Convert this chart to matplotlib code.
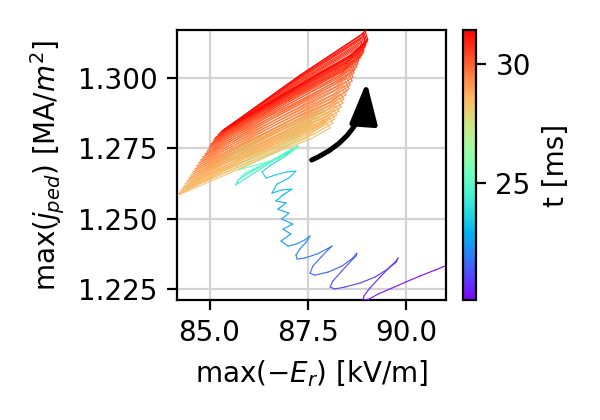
import matplotlib
matplotlib.use("Agg")
import matplotlib.pyplot as plt
from matplotlib.collections import LineCollection
from matplotlib.colors import Normalize
from matplotlib.ticker import MultipleLocator
import numpy as np

# --- early phase: drift from bottom right up into the cyan region ---
t_tail = [20.05, 20.1, 20.17, 20.24, 20.31, 20.38, 20.44, 20.48, 20.52, 20.57,
          20.63, 20.69, 20.73, 20.76, 20.79, 20.84, 20.9, 20.96, 21.02, 21.07,
          21.11, 21.15, 21.21, 21.27, 21.31, 21.34, 21.37, 21.42, 21.48, 21.54,
          21.58, 21.62, 21.67, 21.72, 21.75, 21.78, 21.83, 21.89, 21.94, 21.98,
          22.04, 22.1, 22.15, 22.2, 22.26, 22.32,
          22.42, 22.48, 22.54, 22.6, 22.66, 22.72, 22.78, 22.84, 22.9, 22.96,
          23.02, 23.08, 23.14, 23.2, 23.26, 23.32, 23.38, 23.44, 23.5, 23.56,
          23.62, 23.7, 23.78, 23.84, 23.92, 24.0, 24.1, 24.2, 24.26, 24.34,
          24.44, 24.54, 24.62, 24.68, 24.76, 24.86, 24.96, 25.02, 25.1, 25.2,
          25.3, 25.38, 25.44]
er_tail = [90.99, 90.74, 90.36, 90.00, 89.64, 89.29, 89.06, 88.91, 88.93, 89.08,
           89.34, 89.59, 89.75, 89.80, 89.75, 89.54, 89.21, 88.83, 88.45, 88.19,
           88.07, 88.14, 88.37, 88.60, 88.73, 88.75, 88.65, 88.37, 88.02, 87.68,
           87.56, 87.63, 87.84, 88.04, 88.12, 87.99, 87.74, 87.43, 87.23, 87.20,
           87.30, 87.46, 87.56, 87.43, 87.20, 87.00,
           86.82, 87.07, 86.87, 87.12, 86.84, 87.02, 86.74, 86.95, 86.69, 86.87,
           87.10, 86.84, 86.59, 86.72, 87.02, 87.20, 86.97, 86.67, 86.44, 86.34,
           86.56, 86.90, 87.15, 87.23, 86.95, 86.49, 86.08, 85.73, 85.67, 85.98,
           86.34, 86.74, 87.05, 87.18, 86.84, 86.39, 85.91, 85.78, 86.16, 86.59,
           87.00, 87.28, 86.93]
j_tail = [1.2332, 1.2318, 1.2297, 1.2276, 1.2254, 1.2233, 1.2215, 1.2212, 1.2226, 1.2254,
          1.2293, 1.2329, 1.2350, 1.2361, 1.2346, 1.2322, 1.2293, 1.2272, 1.2258, 1.2251,
          1.2258, 1.2279, 1.2315, 1.2350, 1.2368, 1.2378, 1.2361, 1.2332, 1.2311, 1.2300,
          1.2307, 1.2332, 1.2364, 1.2393, 1.2403, 1.2393, 1.2375, 1.2361, 1.2357, 1.2371,
          1.2393, 1.2417, 1.2439, 1.2425, 1.2410, 1.2403,
          1.2421, 1.2446, 1.2463, 1.2481, 1.2499, 1.2520, 1.2534, 1.2556, 1.2563, 1.2584,
          1.2605, 1.2602, 1.2591, 1.2623, 1.2644, 1.2669, 1.2666, 1.2655, 1.2644, 1.2666,
          1.2690, 1.2719, 1.2744, 1.2758, 1.2729, 1.2698, 1.2669, 1.2637, 1.2620, 1.2648,
          1.2680, 1.2715, 1.2744, 1.2754, 1.2722, 1.2694, 1.2662, 1.2644, 1.2673, 1.2708,
          1.2740, 1.2758, 1.2719]

# --- green loops (mid stack, shorter) ---
t_green = [25.5, 25.58, 25.64, 25.67, 25.73, 25.78, 25.86, 25.92, 25.95, 26.01,
           26.06, 26.14, 26.2, 26.23, 26.29, 26.34, 26.42, 26.48, 26.51, 26.57,
           26.62, 26.7, 26.76, 26.79, 26.85, 26.9, 26.98, 27.04, 27.07, 27.13,
           27.18, 27.26, 27.32, 27.35, 27.41, 27.46, 27.54, 27.6, 27.63, 27.69,
           27.74, 27.82, 27.88, 27.91, 27.97, 28.02, 28.1, 28.16, 28.19, 28.25]
er_green = [85.73, 86.41, 87.18, 87.43, 86.58, 85.67, 86.43, 87.28, 87.56, 86.62,
            85.57, 86.41, 87.36, 87.68, 86.63, 85.47, 86.39, 87.42, 87.76, 86.62,
            85.37, 86.37, 87.49, 87.86, 86.62, 85.27, 86.34, 87.54, 87.94, 86.61,
            85.01, 86.19, 87.52, 87.96, 86.49, 84.76, 86.05, 87.51, 87.99, 86.38,
            84.50, 85.90, 87.47, 87.99, 86.25, 84.30, 85.78, 87.44, 87.99, 86.15]
j_green = [1.2673, 1.2718, 1.2775, 1.2822, 1.2758, 1.2687, 1.2734, 1.2795, 1.2843, 1.2775,
           1.2698, 1.2748, 1.2812, 1.2861, 1.2790, 1.2708, 1.2760, 1.2825, 1.2875, 1.2802,
           1.2715, 1.2768, 1.2835, 1.2885, 1.2810, 1.2715, 1.2771, 1.2841, 1.2893, 1.2814,
           1.2690, 1.2750, 1.2825, 1.2878, 1.2794, 1.2666, 1.2730, 1.2809, 1.2864, 1.2775,
           1.2630, 1.2705, 1.2795, 1.2854, 1.2752, 1.2602, 1.2685, 1.2784, 1.2846, 1.2734]

# --- orange/red limit cycles creeping upwards (7 samples per cycle) ---
t_loops = [28.30, 28.33, 28.35, 28.36, 28.37, 28.38, 28.39,
           28.41, 28.44, 28.46, 28.47, 28.48, 28.49, 28.50,
           28.51, 28.54, 28.56, 28.57, 28.58, 28.59, 28.60,
           28.62, 28.65, 28.67, 28.68, 28.69, 28.70, 28.71,
           28.72, 28.75, 28.77, 28.78, 28.79, 28.80, 28.81,
           28.83, 28.86, 28.88, 28.89, 28.90, 28.91, 28.92,
           28.93, 28.96, 28.98, 28.99, 29.00, 29.01, 29.02,
           29.04, 29.07, 29.09, 29.10, 29.11, 29.12, 29.13,
           29.14, 29.17, 29.19, 29.20, 29.21, 29.22, 29.23,
           29.25, 29.28, 29.30, 29.31, 29.32, 29.33, 29.34,
           29.35, 29.38, 29.40, 29.41, 29.42, 29.43, 29.44,
           29.46, 29.49, 29.51, 29.52, 29.53, 29.54, 29.55,
           29.56, 29.59, 29.61, 29.62, 29.63, 29.64, 29.65,
           29.67, 29.70, 29.72, 29.73, 29.74, 29.75, 29.76,
           29.77, 29.80, 29.82, 29.83, 29.84, 29.85, 29.86,
           29.88, 29.91, 29.93, 29.94, 29.95, 29.96, 29.97,
           29.98, 30.01, 30.03, 30.04, 30.05, 30.06, 30.07,
           30.09, 30.12, 30.14, 30.15, 30.16, 30.17, 30.18,
           30.19, 30.22, 30.24, 30.25, 30.26, 30.27, 30.28,
           30.30, 30.33, 30.35, 30.36, 30.37, 30.38, 30.39,
           30.40, 30.43, 30.45, 30.46, 30.47, 30.48, 30.49,
           30.51, 30.54, 30.56, 30.57, 30.58, 30.59, 30.60,
           30.61, 30.64, 30.66, 30.67, 30.68, 30.69, 30.70,
           30.72, 30.75, 30.77, 30.78, 30.79, 30.80, 30.81,
           30.82, 30.85, 30.87, 30.88, 30.89, 30.90, 30.91,
           30.93, 30.96, 30.98, 30.99, 31.00, 31.01, 31.02,
           31.03, 31.06, 31.08, 31.09, 31.10, 31.11, 31.12,
           31.14, 31.17, 31.19, 31.20, 31.21, 31.22, 31.23,
           31.24, 31.27, 31.29, 31.30, 31.31, 31.32, 31.33,
           31.35, 31.37, 31.39, 31.41, 31.42, 31.43, 31.45]
er_loops = [84.20, 85.53, 86.78, 87.59, 88.07, 87.99, 86.28,
            84.22, 85.57, 86.84, 87.66, 88.14, 88.07, 86.34,
            84.27, 85.62, 86.89, 87.71, 88.19, 88.12, 86.39,
            84.33, 85.67, 86.94, 87.76, 88.24, 88.17, 86.44,
            84.38, 85.72, 86.99, 87.81, 88.30, 88.22, 86.49,
            84.43, 85.77, 87.04, 87.86, 88.35, 88.27, 86.54,
            84.48, 85.82, 87.09, 87.91, 88.40, 88.32, 86.59,
            84.53, 85.87, 87.12, 87.94, 88.42, 88.35, 86.63,
            84.58, 85.92, 87.18, 87.99, 88.47, 88.40, 86.68,
            84.63, 85.96, 87.21, 88.02, 88.50, 88.42, 86.72,
            84.68, 86.01, 87.26, 88.07, 88.55, 88.47, 86.77,
            84.73, 86.05, 87.29, 88.10, 88.58, 88.50, 86.80,
            84.78, 86.10, 87.34, 88.15, 88.63, 88.55, 86.86,
            84.83, 86.15, 87.38, 88.18, 88.65, 88.58, 86.89,
            84.89, 86.19, 87.41, 88.21, 88.68, 88.60, 86.93,
            84.94, 86.23, 87.45, 88.23, 88.70, 88.63, 86.97,
            84.99, 86.28, 87.50, 88.29, 88.75, 88.68, 87.02,
            85.01, 86.31, 87.52, 88.31, 88.78, 88.70, 87.04,
            85.04, 86.33, 87.55, 88.34, 88.80, 88.73, 87.07,
            85.09, 86.37, 87.58, 88.36, 88.83, 88.75, 87.10,
            85.11, 86.40, 87.61, 88.39, 88.85, 88.78, 87.13,
            85.14, 86.42, 87.63, 88.41, 88.88, 88.80, 87.16,
            85.19, 86.46, 87.66, 88.44, 88.91, 88.83, 87.19,
            85.22, 86.49, 87.69, 88.47, 88.93, 88.85, 87.22,
            85.24, 86.51, 87.70, 88.47, 88.93, 88.85, 87.23,
            85.27, 86.53, 87.73, 88.50, 88.96, 88.88, 87.25,
            85.29, 86.56, 87.75, 88.52, 88.98, 88.91, 87.28,
            85.32, 86.58, 87.76, 88.53, 88.98, 88.91, 87.29,
            85.37, 86.62, 87.79, 88.55, 89.01, 88.93, 87.33,
            85.39, 86.64, 87.82, 88.58, 89.03, 88.96, 88.88]
j_loops = [1.2584, 1.2663, 1.2740, 1.2784, 1.2822, 1.2839, 1.2732,
           1.2591, 1.2674, 1.2754, 1.2800, 1.2839, 1.2857, 1.2745,
           1.2602, 1.2685, 1.2767, 1.2814, 1.2854, 1.2871, 1.2757,
           1.2612, 1.2698, 1.2780, 1.2828, 1.2868, 1.2885, 1.2770,
           1.2623, 1.2709, 1.2793, 1.2841, 1.2882, 1.2900, 1.2782,
           1.2634, 1.2721, 1.2806, 1.2855, 1.2896, 1.2914, 1.2795,
           1.2644, 1.2733, 1.2820, 1.2869, 1.2910, 1.2928, 1.2807,
           1.2655, 1.2745, 1.2833, 1.2883, 1.2924, 1.2942, 1.2820,
           1.2666, 1.2757, 1.2846, 1.2897, 1.2939, 1.2956, 1.2833,
           1.2676, 1.2769, 1.2859, 1.2910, 1.2953, 1.2971, 1.2845,
           1.2687, 1.2777, 1.2861, 1.2913, 1.2960, 1.2985, 1.2858,
           1.2698, 1.2789, 1.2874, 1.2927, 1.2974, 1.2999, 1.2871,
           1.2708, 1.2801, 1.2887, 1.2941, 1.2988, 1.3013, 1.2883,
           1.2719, 1.2813, 1.2900, 1.2955, 1.3002, 1.3027, 1.2896,
           1.2729, 1.2824, 1.2913, 1.2968, 1.3017, 1.3041, 1.2908,
           1.2740, 1.2835, 1.2924, 1.2979, 1.3027, 1.3052, 1.2919,
           1.2751, 1.2846, 1.2934, 1.2990, 1.3038, 1.3063, 1.2929,
           1.2758, 1.2854, 1.2944, 1.3000, 1.3049, 1.3073, 1.2939,
           1.2765, 1.2862, 1.2954, 1.3010, 1.3059, 1.3084, 1.2948,
           1.2772, 1.2871, 1.2963, 1.3021, 1.3070, 1.3095, 1.2956,
           1.2779, 1.2876, 1.2966, 1.3020, 1.3073, 1.3105, 1.2966,
           1.2786, 1.2883, 1.2973, 1.3027, 1.3080, 1.3112, 1.2973,
           1.2790, 1.2888, 1.2978, 1.3034, 1.3088, 1.3120, 1.2978,
           1.2797, 1.2895, 1.2985, 1.3041, 1.3095, 1.3127, 1.2985,
           1.2800, 1.2899, 1.2991, 1.3048, 1.3102, 1.3134, 1.2991,
           1.2804, 1.2904, 1.2998, 1.3054, 1.3109, 1.3141, 1.2996,
           1.2807, 1.2909, 1.3004, 1.3061, 1.3116, 1.3148, 1.3002,
           1.2811, 1.2914, 1.3010, 1.3068, 1.3123, 1.3155, 1.3007,
           1.2815, 1.2917, 1.3013, 1.3071, 1.3127, 1.3159, 1.3011,
           1.2818, 1.2922, 1.3019, 1.3078, 1.3134, 1.3166, 1.3155]

t = np.array(t_tail + t_green + t_loops)
er = np.array(er_tail + er_green + er_loops)
jp = np.array(j_tail + j_green + j_loops)

fig = plt.figure(figsize=(3, 2.1), dpi=200)
ax = fig.add_axes([0.2955, 0.2857, 0.4478, 0.6429])

pts = np.column_stack([er, jp])
segs = np.stack([pts[:-1], pts[1:]], axis=1)
norm = Normalize(vmin=20.05, vmax=31.45)
lc = LineCollection(segs, cmap="rainbow", norm=norm, linewidths=0.4,
                    zorder=3, capstyle="round", joinstyle="round")
lc.set_array((t[:-1] + t[1:]) / 2)
ax.add_collection(lc)

ax.set_xlim(84.18, 91.02)
ax.set_ylim(1.2212, 1.3169)
ax.xaxis.set_major_locator(MultipleLocator(2.5))
ax.yaxis.set_major_locator(MultipleLocator(0.025))
ax.grid(True, color="lightgray", lw=0.8)
ax.set_axisbelow(True)

ax.annotate("", xy=(89.0, 1.2985), xytext=(87.60, 1.2708),
            arrowprops=dict(arrowstyle="-|>,head_length=0.9,head_width=0.3",
                            connectionstyle="arc3,rad=0.3", color="k", lw=1.8,
                            shrinkA=0, shrinkB=0, mutation_scale=14), zorder=5)

ax.set_xlabel(r"max($-E_r$) [kV/m]")
ax.set_ylabel(r"max($j_{ped}$) [MA/$m^2$]")

cax = fig.add_axes([0.7712, 0.2857, 0.0222, 0.6429])
cb = fig.colorbar(lc, cax=cax)
cb.set_ticks([25, 30])
cb.set_label("t [ms]")

fig.savefig("out.png", dpi=200)
